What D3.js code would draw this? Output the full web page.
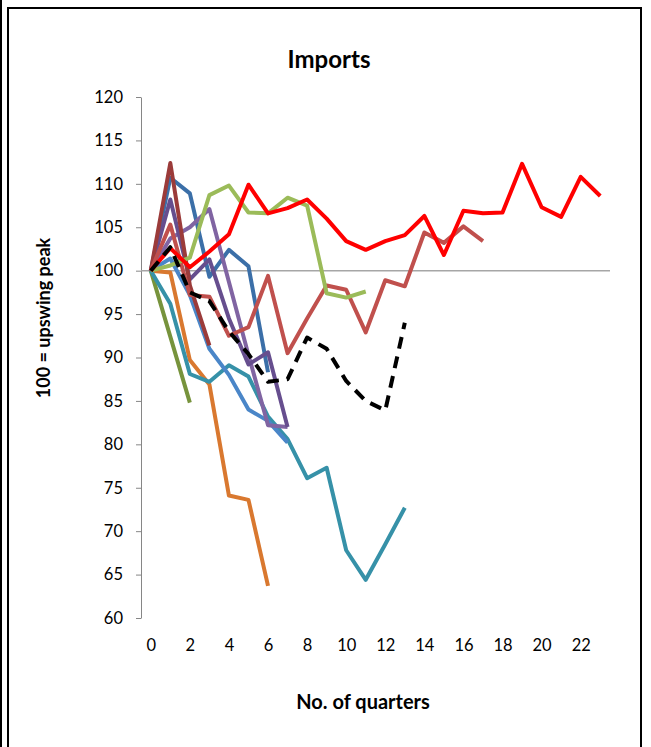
<!DOCTYPE html>
<html>
<head>
<meta charset="utf-8">
<script src="https://cdn.jsdelivr.net/npm/d3@7"></script>
<style>
  body { margin: 0; background: #fff; }
  text { font-family: Lato, "Open Sans", sans-serif; }
</style>
</head>
<body>
<div id="chart"></div>
<script>
// Quarters after the upswing peak (category axis)
const quarters = d3.range(0, 24);
const xTicks = [0, 2, 4, 6, 8, 10, 12, 14, 16, 18, 20, 22];
const yTicks = [60, 65, 70, 75, 80, 85, 90, 95, 100, 105, 110, 115, 120];

// Series values, index = quarter
const darkGreen = [100, 92.4, 84.8];
const orange = [100, 99.8, 89.7, 86.9, 74.1, 73.6, 63.7];
const teal = [100, 96.2, 88.1, 87.2, 89.1, 87.8, 83.2, 80.6, 76.1, 77.3, 67.8, 64.4, 68.5, 72.7];
const blue = [100, 101.4, 97.2, 91.0, 88.0, 84.0, 82.7, 80.2];
const darkBlue = [100, 110.7, 108.9, 99.3, 102.4, 100.5, 88.3];
const purple = [100, 103.7, 105.0, 107.1, 98.7, 90.3, 82.2, 82.0];
const darkPurple = [100, 108.2, 99.0, 101.3, 94.5, 89.2, 90.6, 82.0];
const maroon = [100, 112.4, 98.3, 91.4];
const redBrown = [100, 105.3, 97.2, 97.0, 92.5, 93.5, 99.4, 90.5, 94.5, 98.3, 97.8, 92.9, 98.9, 98.2, 104.4, 103.2, 105.1, 103.4];
const green = [100, 100.6, 101.5, 108.7, 109.8, 106.7, 106.6, 108.4, 107.5, 97.4, 96.9, 97.6];
const brightRed = [100, 102.6, 100.4, 102.2, 104.2, 109.9, 106.6, 107.2, 108.2, 106.0, 103.4, 102.4, 103.4, 104.1, 106.3, 101.8, 106.9, 106.6, 106.7, 112.3, 107.3, 106.2, 110.8, 108.6];
const average = [100, 102.7, 97.5, 96.5, 93.0, 90.4, 87.2, 87.5, 92.3, 91.0, 87.3, 85.0, 83.9, 94.0];

const series = [
    { values: darkGreen, color: "#77933C" },
    { values: orange, color: "#D9782F" },
    { values: teal, color: "#3691A8" },
    { values: blue, color: "#4A86C8" },
    { values: darkBlue, color: "#3B6FA8" },
    { values: purple, color: "#8064A2" },
    { values: darkPurple, color: "#664E8E" },
    { values: maroon, color: "#9B3B3A" },
    { values: redBrown, color: "#C0504D" },
    { values: green, color: "#9BBB59" },
    { values: brightRed, color: "#FF0000" },
    { values: average, color: "#000000", dash: "12,8" }
];

const width = 651;
const height = 747;

const svg = d3.select("#chart").append("svg")
    .attr("width", width)
    .attr("height", height);

// Chart frame
svg.append("rect")
    .attr("x", 8)
    .attr("y", 8)
    .attr("width", 633)
    .attr("height", 750)
    .attr("fill", "none")
    .attr("stroke", "#000")
    .attr("stroke-width", 2);

svg.append("line")
    .attr("x1", 1).attr("x2", 1)
    .attr("y1", 0).attr("y2", height)
    .attr("stroke", "#000")
    .attr("stroke-width", 2);

const x = d3.scalePoint()
    .domain(quarters)
    .range([141, 610])
    .padding(0.5);

const y = d3.scaleLinear()
    .domain([60, 120])
    .range([618, 97]);

// Y axis
const yAxis = svg.append("g")
    .attr("transform", "translate(141,0)")
    .call(d3.axisLeft(y).tickValues(yTicks).tickSize(5).tickSizeOuter(0).tickPadding(13));
yAxis.select(".domain").attr("stroke", "#868686");
yAxis.selectAll(".tick line").attr("stroke", "#868686");
yAxis.selectAll("text")
    .style("font-size", "16.5px")
    .attr("fill", "#000");

// X axis labels (axis line itself crosses at 100)
const xAxis = svg.append("g")
    .attr("transform", "translate(0,618)")
    .call(d3.axisBottom(x).tickValues(xTicks).tickSize(0).tickPadding(21));
xAxis.select(".domain").remove();
xAxis.selectAll("text")
    .style("font-size", "16.5px")
    .attr("fill", "#000");

// Horizontal axis line at 100
svg.append("line")
    .attr("x1", 141)
    .attr("x2", 610)
    .attr("y1", y(100))
    .attr("y2", y(100))
    .attr("stroke", "#A6A6A6")
    .attr("stroke-width", 1.5);

const line = d3.line()
    .x((d, i) => x(i))
    .y(d => y(d));

series.forEach(s => {
    svg.append("path")
        .datum(s.values)
        .attr("fill", "none")
        .attr("stroke", s.color)
        .attr("stroke-width", 4)
        .attr("stroke-linejoin", "round")
        .attr("stroke-dasharray", s.dash || null)
        .attr("d", line);
});

// Title
svg.append("text")
    .attr("x", 329)
    .attr("y", 68)
    .attr("text-anchor", "middle")
    .style("font-size", "24px")
    .style("font-weight", "bold")
    .text("Imports");

// Y-axis label
svg.append("text")
    .attr("transform", "rotate(-90)")
    .attr("x", -318)
    .attr("y", 50)
    .attr("text-anchor", "middle")
    .style("font-size", "18px")
    .style("font-weight", "bold")
    .text("100 = upswing peak");

// X-axis label
svg.append("text")
    .attr("x", 363)
    .attr("y", 709)
    .attr("text-anchor", "middle")
    .style("font-size", "20px")
    .style("font-weight", "bold")
    .text("No. of quarters");
</script>
</body>
</html>
